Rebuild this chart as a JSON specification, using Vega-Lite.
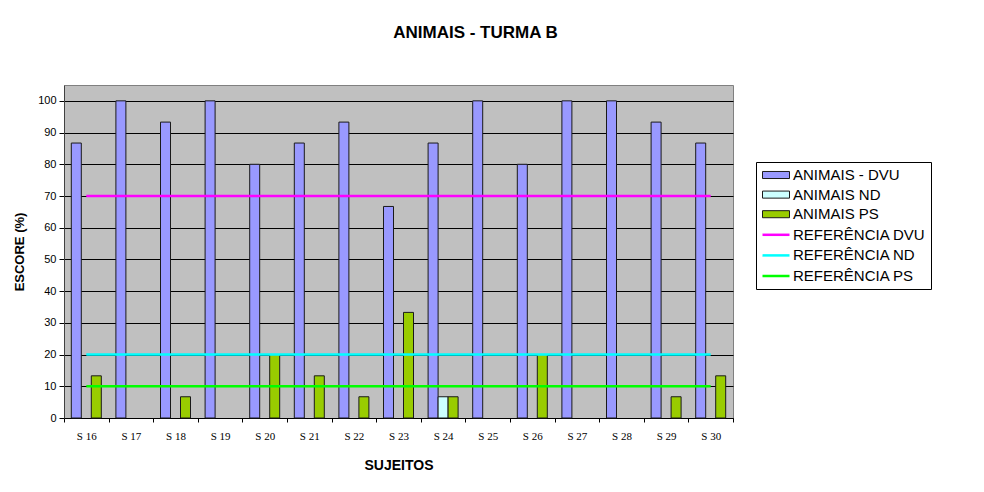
{
  "$schema": "https://vega.github.io/schema/vega-lite/v6.json",
  "autosize": "none",
  "width": 669,
  "height": 333,
  "padding": {"left": 64, "top": 85, "right": 251, "bottom": 74},
  "background": "white",
  "title": {
    "text": "ANIMAIS - TURMA B",
    "font": "Liberation Sans",
    "fontSize": 17,
    "fontWeight": "bold",
    "color": "black",
    "anchor": "middle",
    "dx": 77,
    "offset": 43
  },
  "datasets": {
    "bars": [
      {"sujeito": "S 16", "serie": "ANIMAIS - DVU", "valor": 86.7},
      {"sujeito": "S 16", "serie": "ANIMAIS PS", "valor": 13.3},
      {"sujeito": "S 17", "serie": "ANIMAIS - DVU", "valor": 100},
      {"sujeito": "S 18", "serie": "ANIMAIS - DVU", "valor": 93.3},
      {"sujeito": "S 18", "serie": "ANIMAIS PS", "valor": 6.7},
      {"sujeito": "S 19", "serie": "ANIMAIS - DVU", "valor": 100},
      {"sujeito": "S 20", "serie": "ANIMAIS - DVU", "valor": 80},
      {"sujeito": "S 20", "serie": "ANIMAIS PS", "valor": 20},
      {"sujeito": "S 21", "serie": "ANIMAIS - DVU", "valor": 86.7},
      {"sujeito": "S 21", "serie": "ANIMAIS PS", "valor": 13.3},
      {"sujeito": "S 22", "serie": "ANIMAIS - DVU", "valor": 93.3},
      {"sujeito": "S 22", "serie": "ANIMAIS PS", "valor": 6.7},
      {"sujeito": "S 23", "serie": "ANIMAIS - DVU", "valor": 66.7},
      {"sujeito": "S 23", "serie": "ANIMAIS PS", "valor": 33.3},
      {"sujeito": "S 24", "serie": "ANIMAIS - DVU", "valor": 86.7},
      {"sujeito": "S 24", "serie": "ANIMAIS ND", "valor": 6.7},
      {"sujeito": "S 24", "serie": "ANIMAIS PS", "valor": 6.7},
      {"sujeito": "S 25", "serie": "ANIMAIS - DVU", "valor": 100},
      {"sujeito": "S 26", "serie": "ANIMAIS - DVU", "valor": 80},
      {"sujeito": "S 26", "serie": "ANIMAIS PS", "valor": 20},
      {"sujeito": "S 27", "serie": "ANIMAIS - DVU", "valor": 100},
      {"sujeito": "S 28", "serie": "ANIMAIS - DVU", "valor": 100},
      {"sujeito": "S 29", "serie": "ANIMAIS - DVU", "valor": 93.3},
      {"sujeito": "S 29", "serie": "ANIMAIS PS", "valor": 6.7},
      {"sujeito": "S 30", "serie": "ANIMAIS - DVU", "valor": 86.7},
      {"sujeito": "S 30", "serie": "ANIMAIS PS", "valor": 13.3}
    ],
    "refs": [
      {"serie": "REFERÊNCIA DVU", "valor": 70, "inicio": "S 16", "fim": "S 30"},
      {"serie": "REFERÊNCIA ND", "valor": 20, "inicio": "S 16", "fim": "S 30"},
      {"serie": "REFERÊNCIA PS", "valor": 10, "inicio": "S 16", "fim": "S 30"}
    ]
  },
  "encoding": {
    "y": {
      "field": "valor",
      "type": "quantitative",
      "scale": {"domain": [0, 105], "nice": false, "zero": true},
      "axis": {
        "title": "ESCORE (%)",
        "values": [0, 10, 20, 30, 40, 50, 60, 70, 80, 90, 100],
        "labelOverlap": false,
        "grid": true,
        "gridColor": "black",
        "gridOpacity": 1,
        "gridWidth": 1,
        "tickSize": 5,
        "tickColor": "black",
        "domainColor": "#404040",
        "labelFont": "Liberation Sans",
        "labelFontSize": 11,
        "labelColor": "black",
        "labelPadding": 3,
        "titleFont": "Liberation Sans",
        "titleFontSize": 13,
        "titleFontWeight": "bold",
        "titleColor": "black",
        "titlePadding": 11
      }
    }
  },
  "layer": [
    {
      "data": {"name": "bars"},
      "mark": {"type": "bar", "stroke": "#1a1a1a", "strokeWidth": 1},
      "encoding": {
        "x": {
          "field": "sujeito",
          "type": "nominal",
          "scale": {
            "domain": ["S 16","S 17","S 18","S 19","S 20","S 21","S 22","S 23","S 24","S 25","S 26","S 27","S 28","S 29","S 30"],
            "paddingInner": 0,
            "paddingOuter": 0
          },
          "axis": {
            "title": "SUJEITOS",
            "labelAngle": 0,
            "labelFont": "Liberation Serif",
            "labelFontSize": 11,
            "labelColor": "black",
            "tickBand": "extent",
            "tickSize": 4,
            "tickColor": "black",
            "domainColor": "black",
            "labelPadding": 8,
            "titleFont": "Liberation Sans",
            "titleFontSize": 14,
            "titleFontWeight": "bold",
            "titleColor": "black",
            "titlePadding": 17
          }
        },
        "xOffset": {
          "field": "serie",
          "type": "nominal",
          "scale": {
            "domain": ["ANIMAIS - DVU", "ANIMAIS ND", "ANIMAIS PS"],
            "paddingInner": 0,
            "paddingOuter": 0.73
          }
        },
        "fill": {
          "field": "serie",
          "type": "nominal",
          "scale": {
            "domain": ["ANIMAIS - DVU", "ANIMAIS ND", "ANIMAIS PS", "REFERÊNCIA DVU", "REFERÊNCIA ND", "REFERÊNCIA PS"],
            "range": ["#9999FF", "#CCFFFF", "#99CC00", "transparent", "transparent", "transparent"]
          },
          "legend": {"title": null}
        }
      }
    },
    {
      "data": {"name": "refs"},
      "mark": {"type": "rule"},
      "encoding": {
        "x": {"field": "inicio", "type": "nominal"},
        "x2": {"field": "fim"},
        "stroke": {
          "field": "serie",
          "type": "nominal",
          "scale": {
            "domain": ["ANIMAIS - DVU", "ANIMAIS ND", "ANIMAIS PS", "REFERÊNCIA DVU", "REFERÊNCIA ND", "REFERÊNCIA PS"],
            "range": ["#1a1a1a", "#1a1a1a", "#1a1a1a", "#FF00FF", "#00FFFF", "#00FF00"]
          },
          "legend": {"title": null}
        },
        "strokeWidth": {
          "field": "serie",
          "type": "nominal",
          "scale": {
            "type": "ordinal",
            "domain": ["ANIMAIS - DVU", "ANIMAIS ND", "ANIMAIS PS", "REFERÊNCIA DVU", "REFERÊNCIA ND", "REFERÊNCIA PS"],
            "range": [1, 1, 1, 2.5, 2.5, 2.5]
          },
          "legend": {"title": null}
        }
      }
    },
    {
      "data": {"name": "refs"},
      "mark": {"type": "point", "opacity": 0},
      "encoding": {
        "x": {"field": "inicio", "type": "nominal"},
        "shape": {
          "field": "serie",
          "type": "nominal",
          "scale": {
            "domain": ["ANIMAIS - DVU", "ANIMAIS ND", "ANIMAIS PS", "REFERÊNCIA DVU", "REFERÊNCIA ND", "REFERÊNCIA PS"],
            "range": ["M-1.8,-0.47H1.8V0.47H-1.8Z", "M-1.8,-0.47H1.8V0.47H-1.8Z", "M-1.8,-0.47H1.8V0.47H-1.8Z", "M-1.8,0H1.8", "M-1.8,0H1.8", "M-1.8,0H1.8"]
          },
          "legend": {"title": null}
        }
      }
    }
  ],
  "config": {
    "view": {"fill": "#C0C0C0", "stroke": "#808080", "strokeWidth": 1},
    "legend": {
      "orient": "none",
      "legendX": 692,
      "legendY": 77,
      "padding": 5,
      "strokeColor": "black",
      "fillColor": "white",
      "labelFont": "Liberation Sans",
      "labelFontSize": 15,
      "labelColor": "black",
      "symbolSize": 225,
      "symbolOffset": 6,
      "symbolOpacity": 1,
      "rowPadding": 3.6,
      "labelOffset": 8
    }
  }
}
